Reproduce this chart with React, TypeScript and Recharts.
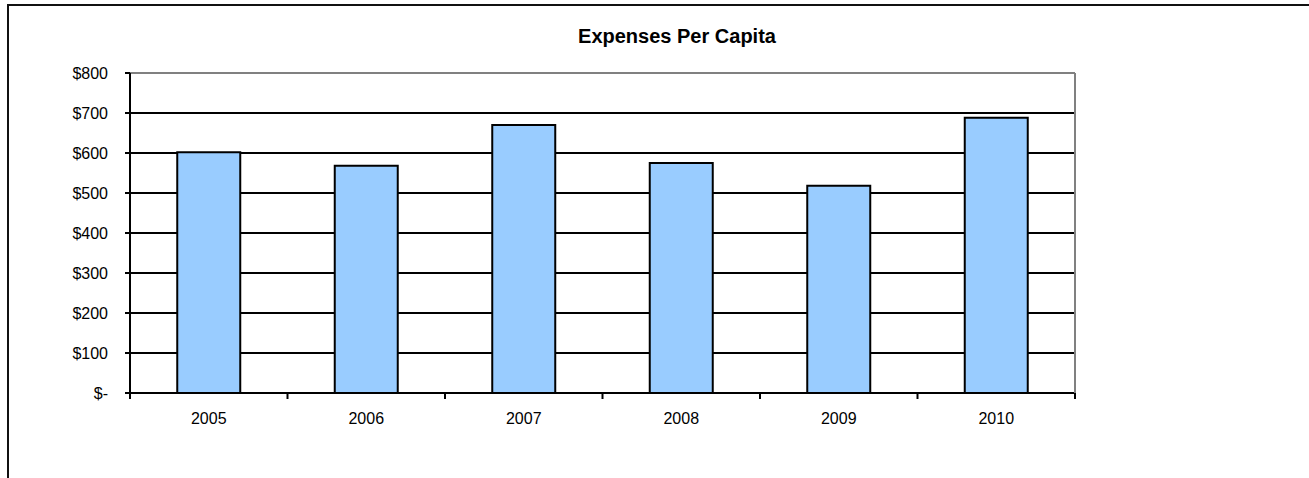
import React from "react";
import { BarChart, Bar, XAxis, YAxis, CartesianGrid, ReferenceLine } from "recharts";

const years = ["2005", "2006", "2007", "2008", "2009", "2010"];
const expenses = [602, 568, 670, 575, 518, 688];
const yTicks = [0, 100, 200, 300, 400, 500, 600, 700, 800];
const gridValues = [100, 200, 300, 400, 500, 600, 700];
const yMax = 800;

const data = years.map((y, i) => ({ year: y, value: expenses[i] }));

const FONT = "'Liberation Sans', Arial, sans-serif";
const TICK_MARGIN = 20;

const XTick = (props: any) => {
  const { x, y, payload, width, visibleTicksCount, index } = props;
  const n = visibleTicksCount || years.length;
  const band = (width || 945) / n;
  const axisY = y - TICK_MARGIN;
  return (
    <g>
      <line x1={x - band / 2} x2={x - band / 2} y1={axisY} y2={axisY + 6} stroke="#000" strokeWidth={2} />
      {index === n - 1 && (
        <line x1={x + band / 2} x2={x + band / 2} y1={axisY} y2={axisY + 6} stroke="#000" strokeWidth={2} />
      )}
      <text x={x} y={y} dy="0.71em" textAnchor="middle" fontSize={16} fontFamily={FONT} fill="#000">
        {payload.value}
      </text>
    </g>
  );
};

const fmt = (v: number) => (v === 0 ? "$-" : `$${v}`);

export default function App() {
  return (
    <div style={{ position: "absolute", left: 0, top: 0, width: 1309, height: 478, overflow: "hidden", background: "#fff" }}>
      <div
        style={{
          position: "absolute",
          left: 7,
          top: 4,
          width: 1400,
          height: 600,
          borderLeft: "2px solid #111",
          borderTop: "2px solid #111",
        }}
      />
      <div
        style={{
          position: "absolute",
          left: 477,
          top: 26,
          width: 400,
          textAlign: "center",
          fontFamily: FONT,
          fontWeight: "bold",
          fontSize: 20,
          lineHeight: "20px",
          color: "#000",
        }}
      >
        Expenses Per Capita
      </div>
      <div style={{ position: "absolute", left: 0, top: 0 }}>
        <BarChart
          width={1309}
          height={478}
          data={data}
          margin={{ top: 73, right: 233, bottom: 55, left: 70 }}
          barCategoryGap="30%"
        >
          <CartesianGrid horizontal={true} vertical={false} horizontalValues={gridValues} stroke="#000" strokeWidth={2} />
          <ReferenceLine y={yMax} stroke="#808080" strokeWidth={2} />
          <XAxis
            dataKey="year"
            height={30}
            axisLine={{ stroke: "#000", strokeWidth: 2 }}
            tickLine={false}
            tickSize={0}
            tickMargin={TICK_MARGIN}
            tick={<XTick />}
            interval={0}
          />
          <YAxis
            width={60}
            domain={[0, yMax]}
            ticks={yTicks}
            interval={0}
            tickFormatter={fmt}
            axisLine={{ stroke: "#000", strokeWidth: 2 }}
            tickLine={{ stroke: "#000", strokeWidth: 2 }}
            tickSize={5}
            tickMargin={17}
            tick={{ fontSize: 16, fontFamily: FONT, fill: "#000" }}
          />
          <YAxis
            yAxisId="right"
            orientation="right"
            width={1}
            domain={[0, yMax]}
            axisLine={{ stroke: "#808080", strokeWidth: 2 }}
            tick={false}
            tickLine={false}
          />
          <Bar dataKey="value" fill="#99CCFF" stroke="#000" strokeWidth={2} isAnimationActive={false} />
        </BarChart>
      </div>
    </div>
  );
}
